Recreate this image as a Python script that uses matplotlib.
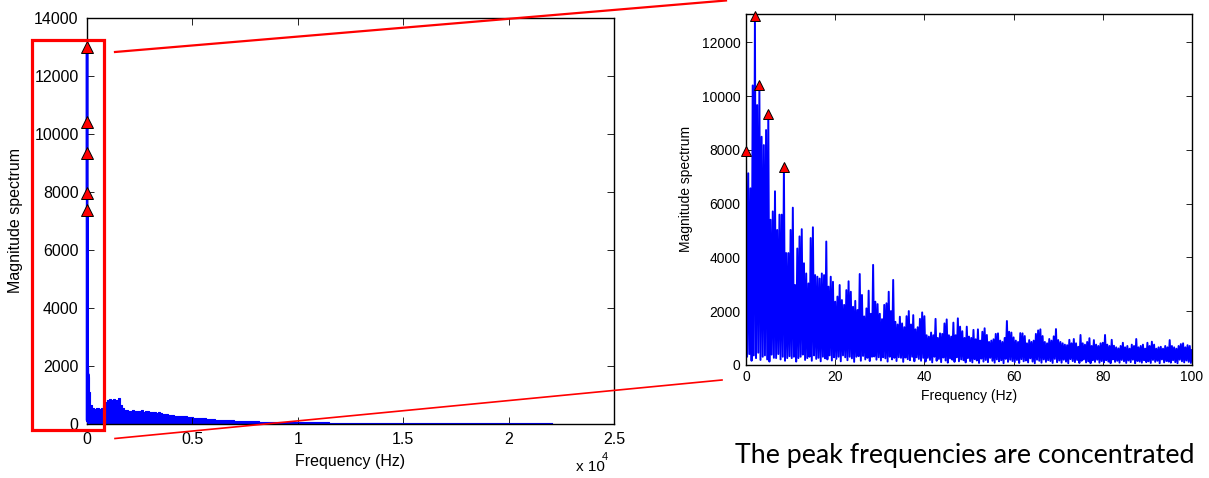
import numpy as np
import matplotlib
matplotlib.use('Agg')
import matplotlib.pyplot as plt
from matplotlib.patches import Rectangle
from matplotlib.lines import Line2D

plt.rcParams['font.family'] = ['Liberation Sans', 'DejaVu Sans']

# ---- zoomed spectrum, 0-100 Hz (peak per 0.5 Hz, trough in between) ----
peak_mag = [
    7950, 7130, 6570, 10400, 13000, 9670, 10400, 8490, 8180, 8740,
    9350, 5400, 5710, 6460, 5020, 5590, 5590, 7380, 4160, 4160,
    5020, 5850, 2970, 4330, 4780, 5050, 3780, 3400, 3030, 4720,
    5120, 3340, 3280, 3210, 3400, 3340, 4590, 2910, 3280, 3090,
    2350, 2540, 2970, 2410, 2230, 2780, 3110, 2720, 2160, 2380,
    2040, 3380, 2600, 1800, 2100, 2760, 1900, 3720, 2350, 2260,
    1900, 1700, 2230, 2290, 2720, 2000, 3160, 1600, 1500, 1790,
    1540, 1400, 1810, 2000, 1500, 1850, 1320, 1400, 1710, 1950,
    1810, 1100, 1050, 1200, 1100, 1710, 1000, 1170, 1150, 1540,
    1690, 1100, 1050, 1570, 1100, 1730, 1420, 1250, 1000, 1420,
    1050, 1000, 1300, 950, 1320, 900, 1230, 1360, 1110, 850,
    900, 950, 1150, 1170, 900, 850, 1000, 1630, 1230, 1200,
    1020, 900, 850, 1180, 1170, 1070, 800, 920, 850, 900,
    1150, 1280, 1320, 1070, 850, 800, 960, 900, 1060, 1330,
    920, 850, 800, 750, 730, 930, 800, 960, 800, 670,
    1110, 800, 750, 850, 990, 700, 920, 750, 700, 800,
    820, 1110, 750, 700, 930, 710, 650, 610, 700, 820,
    650, 700, 600, 750, 700, 960, 650, 700, 750, 600,
    820, 700, 860, 750, 600, 650, 670, 600, 700, 650,
    920, 700, 650, 600, 700, 770, 800, 650, 730, 700,
    550]
trough_mag = [
    300, 400, 150, 350, 250, 450, 180, 300, 350, 200, 120, 380, 260, 250, 400, 200, 300, 150, 250, 320,
    250, 300, 120, 250, 300, 380, 180, 250, 300, 150, 350, 220, 260, 130, 300, 240, 200, 350, 160, 280,
    220, 300, 130, 350, 280, 170, 300, 240, 110, 300, 320, 150, 330, 200, 260, 140, 300, 310, 190, 280,
    160, 280, 240, 120, 300, 200, 260, 140, 280, 260, 110, 270, 210, 170, 300, 130, 280, 220, 150, 260,
    120, 260, 180, 90, 300, 150, 220, 100, 270, 160, 80, 240, 190, 110, 280, 130, 200, 170, 90, 250,
    140, 90, 210, 160, 70, 230, 120, 180, 100, 260, 150, 80, 200, 130, 170, 60, 220, 110, 190, 140,
    100, 180, 70, 210, 130, 160, 90, 240, 120, 60, 190, 150, 80, 200, 110, 170, 140, 70, 220, 100,
    160, 80, 190, 120, 60, 210, 140, 100, 180, 70, 150, 200, 90, 130, 60, 170, 110, 190, 80, 140,
    90, 170, 120, 60, 200, 110, 150, 80, 180, 130, 70, 160, 100, 190, 60, 140, 120, 80, 170, 100,
    130, 70, 180, 110, 150, 60, 200, 90, 140, 120, 80, 170, 100, 60, 190, 130, 90, 160, 110, 70]

zoom_freq = np.arange(0, 100.001, 0.25)
zoom_mag = np.empty(len(zoom_freq))
zoom_mag[0::2] = peak_mag
zoom_mag[1::2] = trough_mag

# detected peaks (Hz)
marked_freq = [0.0, 2.0, 3.0, 5.0, 8.5]
marked_idx = [int(np.argmin(np.abs(zoom_freq - f))) for f in marked_freq]

# ---- full spectrum beyond 100 Hz ----
band_freq = [50] + list(range(100, 10001, 100)) + list(range(11000, 22001, 1000)) + [22050]
band_mag = [
    1630,
    1100, 650, 560, 520, 540, 530, 560, 640, 760, 820,
    860, 830, 850, 840, 880, 640, 540, 480, 470, 460,
    450, 470, 440, 460, 450, 470, 430, 440, 460, 420,
    410, 420, 390, 400, 370, 360, 340, 330, 320, 310,
    300, 290, 290, 280, 270, 270, 260, 255, 250, 230,
    220, 210, 210, 200, 195, 190, 180, 175, 170, 160,
    155, 150, 150, 145, 140, 135, 130, 130, 125, 120,
    120, 118, 115, 112, 110, 108, 100, 98, 95, 90,
    88, 86, 85, 84, 82, 80, 78, 76, 75, 72,
    70, 68, 66, 65, 64, 62, 60, 58, 56, 55,
    52, 50, 48, 45, 42, 40, 38, 36, 35, 34, 33, 32, 30]

left_xticks = [0, 5000, 10000, 15000, 20000, 25000]
left_xtick_labels = ['0', '0.5', '1', '1.5', '2', '2.5']
left_yticks = [0, 2000, 4000, 6000, 8000, 10000, 12000, 14000]
right_xticks = [0, 20, 40, 60, 80, 100]
right_yticks = [0, 2000, 4000, 6000, 8000, 10000, 12000]

W, H = 1209, 478


def fx(x):
    return x / W


def fy(y):
    return 1 - y / H


fig = plt.figure(figsize=(W / 100, H / 100), dpi=100)

# left: full spectrum
ax1 = fig.add_axes([fx(87), fy(424), (614 - 87) / W, (424 - 18) / H])
ax1.fill_between(band_freq, band_mag, step='mid', color='blue', lw=0)
ax1.plot(band_freq, band_mag, color='blue', lw=0.8, drawstyle='steps-mid')
ax1.plot(zoom_freq, zoom_mag, color='blue', lw=1.8, zorder=3, clip_on=False)
ax1.plot(zoom_freq[marked_idx], zoom_mag[marked_idx], '^', ms=8,
         mfc='red', mec='black', mew=0.7, clip_on=False, zorder=4)
ax1.set_xlim(0, 25000)
ax1.set_ylim(0, 14000)
ax1.set_xticks(left_xticks)
ax1.set_xticklabels(left_xtick_labels)
ax1.set_yticks(left_yticks)
ax1.set_xlabel('Frequency (Hz)', fontsize=11.5, labelpad=5)
ax1.set_ylabel('Magnitude spectrum', fontsize=11.5, labelpad=8)
ax1.tick_params(labelsize=11.5, direction='in', top=True, right=True,
                length=5, width=0.6, pad=6)
fig.text(fx(576), fy(471), 'x 10', fontsize=11, ha='left', va='baseline')
fig.text(fx(602), fy(460), '4', fontsize=8, ha='left', va='baseline')

# right: zoom on 0-100 Hz
ax2 = fig.add_axes([fx(746), fy(364.8), (1192 - 746) / W, (364.8 - 14) / H])
ax2.plot(zoom_freq, zoom_mag, color='blue', lw=1.4)
ax2.plot(zoom_freq[marked_idx], zoom_mag[marked_idx], '^', ms=7,
         mfc='red', mec='black', mew=0.7, clip_on=False, zorder=4)
ax2.set_xlim(0, 100)
ax2.set_ylim(0, 13060)
ax2.set_xticks(right_xticks)
ax2.set_yticks(right_yticks)
ax2.set_xlabel('Frequency (Hz)', fontsize=10, labelpad=3)
ax2.set_ylabel('Magnitude spectrum', fontsize=10, labelpad=6)
ax2.tick_params(labelsize=10, direction='in', top=True, right=True,
                length=4, width=0.6, pad=4)

for ax in (ax1, ax2):
    for s in ax.spines.values():
        s.set_linewidth(1.0)

# zoom box and connector lines
fig.add_artist(Rectangle((fx(32), fy(429.5)), (103.5 - 32) / W, (429.5 - 39.5) / H,
                         transform=fig.transFigure, fill=False, ec='red', lw=2.3, zorder=10))
fig.add_artist(Line2D([fx(115), fx(726)], [fy(52), fy(0.5)],
                      transform=fig.transFigure, color='red', lw=1.6, zorder=10))
fig.add_artist(Line2D([fx(115), fx(722)], [fy(438.5), fy(380)],
                      transform=fig.transFigure, color='red', lw=1.2, zorder=10))

fig.text(fx(735), fy(463), 'The peak frequencies are concentrated',
         fontsize=19.3, family=['Lato', 'DejaVu Sans'], ha='left', va='baseline')

fig.savefig('out.png', dpi=100)
